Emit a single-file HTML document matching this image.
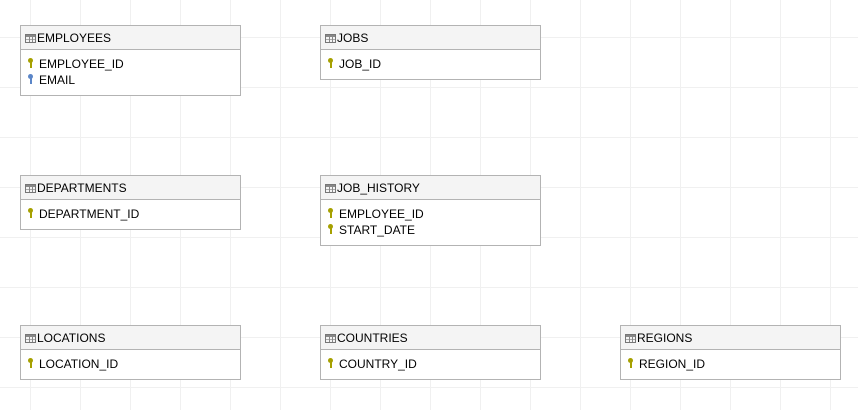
<!DOCTYPE html>
<html><head><style>
html,body{margin:0;padding:0}
body{width:858px;height:410px;position:relative;overflow:hidden;background-color:#fff;
background-image:linear-gradient(#f0f0f0 1px,transparent 1px),linear-gradient(90deg,#f0f0f0 1px,transparent 1px);
background-size:50px 50px;background-position:0 37px,30px 0;font-family:"Liberation Sans",Arial,sans-serif;font-size:12px;color:#000}
.t{position:absolute;width:219px;border:1px solid #b3b3b3;background:#fff;box-sizing:content-box}
.h{height:23px;background:#f4f4f4;border-bottom:1px solid #b3b3b3;line-height:24px;padding-left:4px;position:relative}
.ic{display:inline-block;width:11px;height:9px;border:1px solid #777;vertical-align:-1px;margin-right:1px;
background:linear-gradient(90deg,transparent 3px,#888 3px,#888 4px,transparent 4px,transparent 6px,#888 6px,#888 7px,transparent 7px),
linear-gradient(#888 2px,transparent 2px,transparent 4px,#aaa 4px,#aaa 5px,transparent 5px);box-sizing:border-box}
.b{padding:6px 0 7px 6px}
.r{height:16px;line-height:16px;position:relative;padding-left:12px}
.k{position:absolute;left:1px;top:2px;width:5px;height:5px;border-radius:50%;background:#a6a000}
.k:after{content:"";position:absolute;left:1.5px;top:4px;width:2px;height:6px;background:#a6a000}
.k.bl,.k.bl:after{background:#5b86c8}
</style></head><body>
<div class="t" style="left:20px;top:25px"><div class="h"><span class="ic"></span>EMPLOYEES</div><div class="b"><div class="r"><i class="k"></i>EMPLOYEE_ID</div><div class="r"><i class="k bl"></i>EMAIL</div></div></div>
<div class="t" style="left:320px;top:25px"><div class="h"><span class="ic"></span>JOBS</div><div class="b"><div class="r"><i class="k"></i>JOB_ID</div></div></div>
<div class="t" style="left:20px;top:175px"><div class="h"><span class="ic"></span>DEPARTMENTS</div><div class="b"><div class="r"><i class="k"></i>DEPARTMENT_ID</div></div></div>
<div class="t" style="left:320px;top:175px"><div class="h"><span class="ic"></span>JOB_HISTORY</div><div class="b"><div class="r"><i class="k"></i>EMPLOYEE_ID</div><div class="r"><i class="k"></i>START_DATE</div></div></div>
<div class="t" style="left:20px;top:325px"><div class="h"><span class="ic"></span>LOCATIONS</div><div class="b"><div class="r"><i class="k"></i>LOCATION_ID</div></div></div>
<div class="t" style="left:320px;top:325px"><div class="h"><span class="ic"></span>COUNTRIES</div><div class="b"><div class="r"><i class="k"></i>COUNTRY_ID</div></div></div>
<div class="t" style="left:620px;top:325px"><div class="h"><span class="ic"></span>REGIONS</div><div class="b"><div class="r"><i class="k"></i>REGION_ID</div></div></div>
</body></html>
